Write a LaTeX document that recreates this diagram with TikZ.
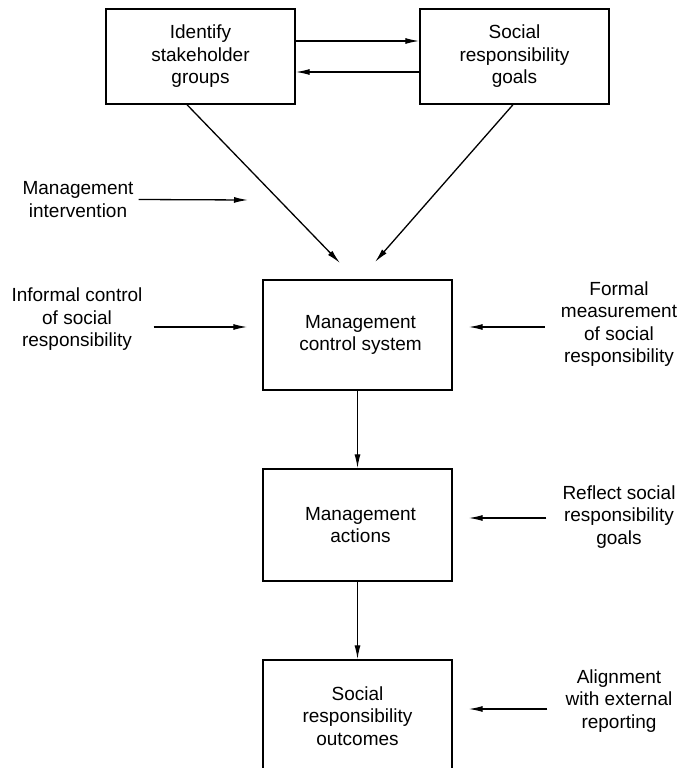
\documentclass[tikz,border=0pt]{standalone}
\usepackage{fontspec}
\setmainfont{Liberation Sans}
\usetikzlibrary{arrows.meta}

\begin{document}
\begin{tikzpicture}[
	x=1pt, y=-1pt,
	font=\fontsize{19}{22.5}\selectfont,
	box/.style={
		draw,
		line width=1.4pt,
		align=center,
		minimum width=189pt,
		inner sep=2pt,
	},
	label/.style={
		align=center,
		inner sep=2pt,
	},
	arr/.style={
		line width=1.3pt,
		-{Latex[length=14pt,width=6pt]},
	}
]

\useasboundingbox (0,0) rectangle (678,768);

\node[box, minimum height=95pt] (id) at (200.5,56.5) {Identify \\ stakeholder \\ groups};
\node[box, minimum height=95pt] (goals) at (514.5,56.5) {Social \\ responsibility \\ goals};
\node[box, minimum height=110pt] (mcs) at (357.5,335) {\hspace{6pt}Management \\ \hspace{6pt}control system};
\node[box, minimum height=112pt] (ma) at (357.5,525) {\hspace{6pt}Management \\ \hspace{6pt}actions};
\node[box, minimum height=112pt] (sro) at (357.5,716) {Social \\ responsibility \\ outcomes};

\node[label] (mi) at (78,199.5) {Management \\ intervention};
\node[label] (ic) at (77,319.5) {Informal control \\ of social \\ responsibility};
\node[label] (fm) at (619,324) {Formal \\ measurement \\ of social \\ responsibility};
\node[label] (rg) at (619,517) {Reflect social \\ responsibility \\ goals};
\node[label] (al) at (619,701) {Alignment \\ with external \\ reporting};

\coordinate (tipl) at (340,263);
\coordinate (tipr) at (375,262);
\coordinate (miend) at (248,200);

\draw[arr] ([yshift=15.5pt]id.east) -- ([yshift=15.5pt]goals.west);
\draw[arr] ([yshift=-15.5pt]goals.west) -- ([yshift=-15.5pt]id.east);
\draw[arr] ([xshift=-13.5pt]id.south) -- (tipl);
\draw[arr] ([xshift=-1.5pt]goals.south) -- (tipr);
\draw[arr] ([xshift=3pt]mi.east) -- (miend);

\draw[arr] ([xshift=9pt,yshift=-7.5pt]ic.east) -- ([xshift=-15pt,yshift=8pt]mcs.west);
\draw[arr] ([xshift=-14pt,yshift=-3pt]fm.west) -- ([xshift=16pt,yshift=8pt]mcs.east);
\draw[arr] ([xshift=-14pt,yshift=-1pt]rg.west) -- ([xshift=16pt,yshift=7pt]ma.east);
\draw[arr] ([xshift=-16pt,yshift=-8pt]al.west) -- ([xshift=16pt,yshift=7pt]sro.east);

\draw[arr] (mcs) -- (ma);
\draw[arr] (ma) -- (sro);

\end{tikzpicture}
\end{document}
